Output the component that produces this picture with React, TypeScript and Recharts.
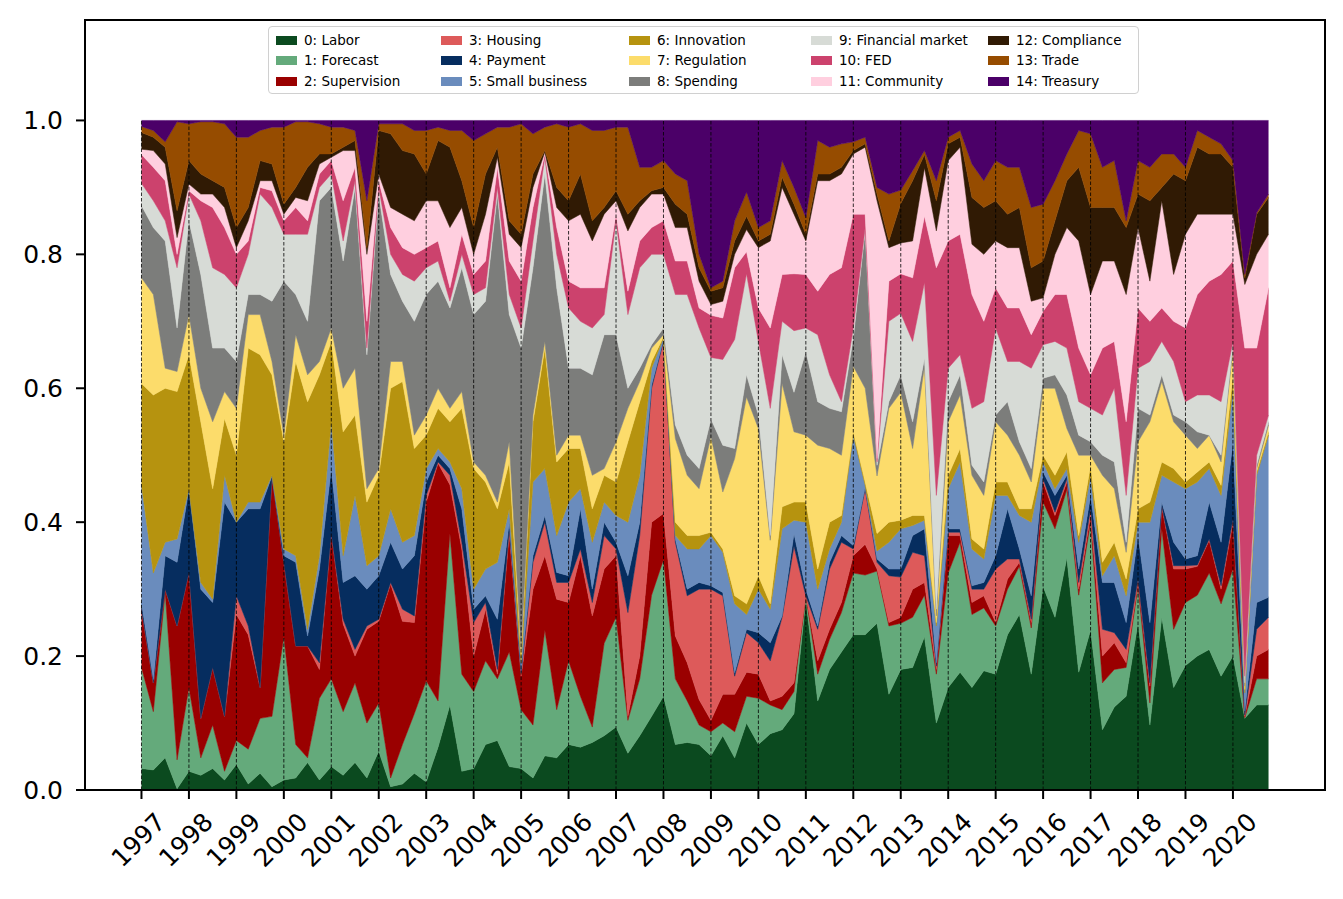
import React from "react";
import { AreaChart, Area, XAxis, YAxis, ReferenceLine } from "recharts";

// quarterly x positions
const quarters = [
  1997, 1997.25, 1997.5, 1997.75, 1998, 1998.25, 1998.5, 1998.75,
  1999, 1999.25, 1999.5, 1999.75, 2000, 2000.25, 2000.5, 2000.75,
  2001, 2001.25, 2001.5, 2001.75, 2002, 2002.25, 2002.5, 2002.75,
  2003, 2003.25, 2003.5, 2003.75, 2004, 2004.25, 2004.5, 2004.75,
  2005, 2005.25, 2005.5, 2005.75, 2006, 2006.25, 2006.5, 2006.75,
  2007, 2007.25, 2007.5, 2007.75, 2008, 2008.25, 2008.5, 2008.75,
  2009, 2009.25, 2009.5, 2009.75, 2010, 2010.25, 2010.5, 2010.75,
  2011, 2011.25, 2011.5, 2011.75, 2012, 2012.25, 2012.5, 2012.75,
  2013, 2013.25, 2013.5, 2013.75, 2014, 2014.25, 2014.5, 2014.75,
  2015, 2015.25, 2015.5, 2015.75, 2016, 2016.25, 2016.5, 2016.75,
  2017, 2017.25, 2017.5, 2017.75, 2018, 2018.25, 2018.5, 2018.75,
  2019, 2019.25, 2019.5, 2019.75, 2020, 2020.25, 2020.5, 2020.75,
];

const years = [
  1997, 1998, 1999, 2000, 2001, 2002, 2003, 2004, 2005, 2006, 2007, 2008,
  2009, 2010, 2011, 2012, 2013, 2014, 2015, 2016, 2017, 2018, 2019, 2020,
];

const yTicks = [0, 0.2, 0.4, 0.6, 0.8, 1.0];

const topicNames = [
  "0: Labor", "1: Forecast", "2: Supervision", "3: Housing", "4: Payment",
  "5: Small business", "6: Innovation", "7: Regulation", "8: Spending",
  "9: Financial market", "10: FED", "11: Community", "12: Compliance",
  "13: Trade", "14: Treasury",
];

// upper edge of each topic band (cumulative share)
const laborTop = [
  0.032, 0.03, 0.048, 0.002, 0.028, 0.022, 0.032, 0.015, 0.038, 0.009, 0.025, 0.005,
  0.015, 0.018, 0.041, 0.015, 0.035, 0.022, 0.041, 0.018, 0.058, 0.005, 0.009, 0.025,
  0.012, 0.064, 0.127, 0.028, 0.032, 0.068, 0.074, 0.035, 0.032, 0.018, 0.051, 0.048,
  0.068, 0.064, 0.071, 0.081, 0.094, 0.055, 0.081, 0.11, 0.14, 0.068, 0.071, 0.068,
  0.051, 0.081, 0.048, 0.1, 0.068, 0.084, 0.09, 0.114, 0.285, 0.133, 0.18, 0.206,
  0.232, 0.232, 0.249, 0.143, 0.18, 0.183, 0.229, 0.1, 0.153, 0.176, 0.153, 0.178,
  0.173, 0.232, 0.262, 0.173, 0.304, 0.258, 0.347, 0.176, 0.239, 0.09, 0.124, 0.14,
  0.25, 0.097, 0.258, 0.153, 0.186, 0.2, 0.21, 0.17, 0.2, 0.107, 0.127, 0.127,
];
const forecastTop = [
  0.183, 0.117, 0.295, 0.045, 0.153, 0.048, 0.097, 0.028, 0.074, 0.061, 0.107, 0.11,
  0.229, 0.068, 0.048, 0.137, 0.166, 0.117, 0.16, 0.1, 0.13, 0.018, 0.068, 0.114,
  0.163, 0.133, 0.383, 0.173, 0.147, 0.193, 0.166, 0.206, 0.12, 0.097, 0.239, 0.12,
  0.193, 0.14, 0.094, 0.219, 0.258, 0.104, 0.166, 0.291, 0.344, 0.166, 0.133, 0.097,
  0.087, 0.1, 0.087, 0.14, 0.137, 0.127, 0.12, 0.147, 0.29, 0.173, 0.225, 0.265,
  0.324, 0.321, 0.327, 0.245, 0.249, 0.258, 0.291, 0.173, 0.324, 0.37, 0.262, 0.272,
  0.245, 0.3, 0.334, 0.242, 0.43, 0.39, 0.449, 0.291, 0.4, 0.16, 0.18, 0.183,
  0.304, 0.13, 0.39, 0.24, 0.28, 0.291, 0.324, 0.278, 0.33, 0.108, 0.166, 0.166,
];
const supervisionTop = [
  0.27, 0.16, 0.3, 0.245, 0.325, 0.107, 0.183, 0.11, 0.262, 0.232, 0.153, 0.469,
  0.34, 0.215, 0.215, 0.18, 0.383, 0.248, 0.2, 0.24, 0.252, 0.308, 0.252, 0.25,
  0.43, 0.488, 0.456, 0.36, 0.2, 0.27, 0.173, 0.383, 0.17, 0.3, 0.35, 0.285,
  0.28, 0.35, 0.26, 0.33, 0.35, 0.11, 0.2, 0.4, 0.413, 0.23, 0.19, 0.135,
  0.104, 0.143, 0.143, 0.176, 0.173, 0.133, 0.14, 0.16, 0.29, 0.193, 0.24, 0.28,
  0.35, 0.367, 0.33, 0.25, 0.258, 0.3, 0.31, 0.18, 0.38, 0.38, 0.28, 0.29,
  0.25, 0.315, 0.34, 0.25, 0.46, 0.41, 0.46, 0.3, 0.41, 0.2, 0.22, 0.19,
  0.31, 0.155, 0.423, 0.33, 0.33, 0.334, 0.373, 0.3, 0.4, 0.11, 0.2, 0.21,
];
const housingTop = [
  0.27, 0.16, 0.3, 0.245, 0.325, 0.107, 0.183, 0.11, 0.29, 0.245, 0.153, 0.469,
  0.34, 0.215, 0.215, 0.19, 0.383, 0.255, 0.21, 0.245, 0.255, 0.31, 0.27, 0.26,
  0.44, 0.49, 0.47, 0.37, 0.25, 0.28, 0.18, 0.39, 0.175, 0.34, 0.4, 0.31,
  0.31, 0.36, 0.28, 0.38, 0.36, 0.265, 0.38, 0.6, 0.67, 0.37, 0.29, 0.3,
  0.3, 0.29, 0.17, 0.235, 0.22, 0.193, 0.258, 0.364, 0.29, 0.24, 0.33, 0.37,
  0.36, 0.45, 0.34, 0.32, 0.318, 0.355, 0.35, 0.185, 0.385, 0.385, 0.3, 0.3,
  0.33, 0.345, 0.345, 0.255, 0.465, 0.415, 0.465, 0.31, 0.42, 0.24, 0.235, 0.21,
  0.315, 0.16, 0.425, 0.335, 0.335, 0.336, 0.375, 0.305, 0.405, 0.112, 0.24, 0.258,
];
const paymentTop = [
  0.28, 0.165, 0.35, 0.34, 0.45, 0.3, 0.28, 0.43, 0.4, 0.42, 0.42, 0.469,
  0.35, 0.34, 0.23, 0.33, 0.48, 0.31, 0.32, 0.3, 0.32, 0.37, 0.33, 0.35,
  0.46, 0.5, 0.48, 0.42, 0.27, 0.29, 0.255, 0.4, 0.18, 0.35, 0.41, 0.325,
  0.32, 0.42, 0.3, 0.4, 0.37, 0.32, 0.4, 0.605, 0.672, 0.375, 0.3, 0.31,
  0.305, 0.295, 0.175, 0.24, 0.235, 0.22, 0.26, 0.383, 0.3, 0.245, 0.34, 0.38,
  0.365, 0.452, 0.345, 0.33, 0.33, 0.38, 0.39, 0.19, 0.39, 0.39, 0.305, 0.31,
  0.35, 0.42, 0.36, 0.29, 0.475, 0.44, 0.47, 0.33, 0.44, 0.31, 0.31, 0.25,
  0.38, 0.25, 0.43, 0.37, 0.345, 0.35, 0.43, 0.37, 0.52, 0.118, 0.28, 0.288,
];
const smallBusinessTop = [
  0.456, 0.324, 0.37, 0.375, 0.45, 0.31, 0.285, 0.47, 0.4, 0.43, 0.43, 0.47,
  0.36, 0.35, 0.24, 0.35, 0.55, 0.35, 0.44, 0.335, 0.35, 0.42, 0.37, 0.38,
  0.48, 0.51, 0.49, 0.45, 0.3, 0.33, 0.34, 0.42, 0.19, 0.46, 0.48, 0.38,
  0.43, 0.45, 0.37, 0.43, 0.41, 0.4, 0.47, 0.63, 0.675, 0.38, 0.36, 0.36,
  0.38, 0.355, 0.278, 0.262, 0.3, 0.27, 0.39, 0.403, 0.4, 0.3, 0.36, 0.4,
  0.53, 0.455, 0.357, 0.37, 0.39, 0.395, 0.403, 0.245, 0.45, 0.49, 0.36, 0.345,
  0.44, 0.44, 0.41, 0.4, 0.49, 0.45, 0.48, 0.37, 0.47, 0.32, 0.35, 0.29,
  0.4, 0.4, 0.47, 0.46, 0.45, 0.46, 0.48, 0.44, 0.6, 0.145, 0.47, 0.53,
];
const innovationTop = [
  0.607, 0.59, 0.6, 0.595, 0.65, 0.55, 0.45, 0.555, 0.5, 0.66, 0.65, 0.62,
  0.52, 0.64, 0.58, 0.62, 0.67, 0.535, 0.56, 0.43, 0.47, 0.6, 0.61, 0.51,
  0.53, 0.57, 0.55, 0.57, 0.48, 0.46, 0.42, 0.49, 0.2, 0.55, 0.66, 0.49,
  0.51, 0.51, 0.42, 0.47, 0.46, 0.52, 0.58, 0.64, 0.677, 0.4, 0.38, 0.38,
  0.385, 0.36, 0.29, 0.278, 0.32, 0.278, 0.423, 0.43, 0.43, 0.33, 0.4, 0.41,
  0.535, 0.46, 0.383, 0.4, 0.403, 0.41, 0.41, 0.25, 0.47, 0.51, 0.375, 0.36,
  0.46, 0.46, 0.42, 0.42, 0.5, 0.47, 0.505, 0.38, 0.485, 0.34, 0.37, 0.315,
  0.42, 0.43, 0.49, 0.48, 0.46, 0.475, 0.49, 0.455, 0.62, 0.15, 0.475, 0.535,
];
const regulationTop = [
  0.765, 0.74, 0.63, 0.625, 0.71, 0.6, 0.55, 0.595, 0.57, 0.71, 0.71, 0.64,
  0.53, 0.68, 0.62, 0.64, 0.69, 0.6, 0.63, 0.45, 0.48, 0.64, 0.64, 0.53,
  0.56, 0.6, 0.57, 0.595, 0.49, 0.47, 0.43, 0.52, 0.21, 0.56, 0.67, 0.5,
  0.53, 0.53, 0.47, 0.48, 0.52, 0.57, 0.61, 0.66, 0.68, 0.525, 0.47, 0.45,
  0.528, 0.445, 0.495, 0.587, 0.54, 0.373, 0.607, 0.535, 0.53, 0.515, 0.51, 0.5,
  0.633, 0.6, 0.469, 0.57, 0.594, 0.51, 0.633, 0.26, 0.55, 0.59, 0.47, 0.44,
  0.55, 0.53, 0.5, 0.46, 0.6, 0.6, 0.54, 0.5, 0.5, 0.47, 0.45, 0.355,
  0.52, 0.55, 0.61, 0.55, 0.53, 0.51, 0.53, 0.49, 0.66, 0.155, 0.48, 0.545,
];
const spendingTop = [
  0.873, 0.84, 0.82, 0.69, 0.85, 0.77, 0.66, 0.66, 0.64, 0.74, 0.74, 0.73,
  0.76, 0.74, 0.7, 0.88, 0.9, 0.79, 0.9, 0.65, 0.89, 0.77, 0.73, 0.7,
  0.74, 0.76, 0.72, 0.78, 0.71, 0.73, 0.89, 0.71, 0.66, 0.78, 0.92, 0.75,
  0.63, 0.63, 0.62, 0.68, 0.68, 0.6, 0.63, 0.665, 0.69, 0.545, 0.5, 0.48,
  0.554, 0.515, 0.51, 0.62, 0.56, 0.38, 0.65, 0.594, 0.655, 0.58, 0.57, 0.565,
  0.675, 0.835, 0.485, 0.58, 0.62, 0.55, 0.645, 0.27, 0.58, 0.62, 0.485, 0.46,
  0.56, 0.58, 0.52, 0.48, 0.615, 0.62, 0.59, 0.53, 0.52, 0.5, 0.49, 0.37,
  0.57, 0.56, 0.62, 0.56, 0.55, 0.535, 0.53, 0.5, 0.665, 0.16, 0.485, 0.55,
];
const financialMarketTop = [
  0.906, 0.88, 0.85, 0.78, 0.89, 0.85, 0.78, 0.77, 0.75, 0.8, 0.89, 0.87,
  0.83, 0.83, 0.83, 0.9, 0.92, 0.82, 0.91, 0.66, 0.9, 0.8, 0.77, 0.76,
  0.78, 0.79, 0.73, 0.8, 0.74, 0.75, 0.9, 0.74, 0.69, 0.82, 0.945, 0.8,
  0.72, 0.7, 0.69, 0.71, 0.85, 0.71, 0.78, 0.8, 0.8, 0.74, 0.74, 0.69,
  0.646, 0.643, 0.673, 0.771, 0.67, 0.57, 0.7, 0.686, 0.69, 0.68, 0.62, 0.58,
  0.69, 0.84, 0.49, 0.7, 0.712, 0.67, 0.758, 0.44, 0.63, 0.65, 0.57, 0.58,
  0.69, 0.64, 0.64, 0.63, 0.665, 0.67, 0.66, 0.58, 0.57, 0.56, 0.6, 0.44,
  0.63, 0.64, 0.67, 0.64, 0.58, 0.59, 0.59, 0.58, 0.67, 0.17, 0.5, 0.56,
];
const fedTop = [
  0.949, 0.93, 0.91, 0.8, 0.895, 0.88, 0.87, 0.84, 0.8, 0.82, 0.9, 0.895,
  0.85, 0.87, 0.85, 0.92, 0.94, 0.88, 0.93, 0.7, 0.91, 0.84, 0.81, 0.8,
  0.81, 0.82, 0.75, 0.83, 0.77, 0.79, 0.93, 0.79, 0.76, 0.87, 0.95, 0.84,
  0.76, 0.75, 0.75, 0.75, 0.86, 0.745, 0.82, 0.84, 0.85, 0.79, 0.79, 0.72,
  0.709, 0.705, 0.78, 0.804, 0.72, 0.69, 0.77, 0.771, 0.77, 0.745, 0.77, 0.78,
  0.86, 0.86, 0.495, 0.76, 0.771, 0.765, 0.857, 0.78, 0.82, 0.83, 0.74, 0.7,
  0.75, 0.72, 0.72, 0.68, 0.715, 0.74, 0.74, 0.66, 0.62, 0.66, 0.67, 0.55,
  0.72, 0.7, 0.72, 0.7, 0.69, 0.74, 0.76, 0.77, 0.79, 0.66, 0.66, 0.75,
];
const communityTop = [
  0.957, 0.955, 0.935, 0.825, 0.905, 0.89, 0.89, 0.87, 0.81, 0.85, 0.91, 0.91,
  0.86, 0.885, 0.88, 0.935, 0.945, 0.955, 0.955, 0.8, 0.92, 0.87, 0.86, 0.85,
  0.88, 0.88, 0.84, 0.87, 0.8, 0.86, 0.945, 0.83, 0.81, 0.9, 0.953, 0.87,
  0.85, 0.86, 0.82, 0.86, 0.88, 0.835, 0.87, 0.89, 0.89, 0.84, 0.84, 0.76,
  0.725, 0.73, 0.8, 0.837, 0.81, 0.82, 0.9, 0.86, 0.82, 0.91, 0.91, 0.92,
  0.95, 0.96, 0.88, 0.81, 0.817, 0.82, 0.929, 0.835, 0.94, 0.96, 0.815, 0.8,
  0.82, 0.81, 0.81, 0.73, 0.735, 0.8, 0.84, 0.82, 0.74, 0.79, 0.79, 0.74,
  0.84, 0.76, 0.88, 0.77, 0.83, 0.86, 0.86, 0.86, 0.86, 0.755, 0.8, 0.83,
];
const complianceTop = [
  0.982, 0.975, 0.96, 0.865, 0.94, 0.92, 0.91, 0.9, 0.84, 0.87, 0.94, 0.935,
  0.875, 0.9, 0.93, 0.95, 0.95, 0.96, 0.97, 0.81, 0.985, 0.98, 0.955, 0.95,
  0.92, 0.97, 0.96, 0.91, 0.84, 0.92, 0.96, 0.85, 0.83, 0.92, 0.955, 0.9,
  0.88, 0.92, 0.85, 0.87, 0.895, 0.86, 0.88, 0.895, 0.9, 0.875, 0.86, 0.78,
  0.745, 0.75, 0.82, 0.857, 0.82, 0.83, 0.915, 0.875, 0.83, 0.92, 0.92, 0.93,
  0.955, 0.965, 0.89, 0.82, 0.876, 0.91, 0.949, 0.88, 0.965, 0.975, 0.885, 0.87,
  0.88, 0.86, 0.87, 0.78, 0.79, 0.85, 0.91, 0.93, 0.87, 0.87, 0.87, 0.84,
  0.89, 0.88, 0.9, 0.92, 0.91, 0.96, 0.95, 0.95, 0.93, 0.765, 0.86, 0.885,
];
const tradeTop = [
  0.991, 0.985, 0.968, 0.998, 0.995, 0.998, 0.998, 0.995, 0.975, 0.975, 0.985, 0.99,
  0.99, 0.998, 0.998, 0.995, 0.99, 0.99, 0.985, 0.88, 0.995, 0.995, 0.995, 0.985,
  0.985, 0.99, 0.985, 0.985, 0.97, 0.98, 0.99, 0.99, 0.995, 0.98, 0.99, 0.995,
  0.99, 0.995, 0.985, 0.985, 0.99, 0.99, 0.93, 0.93, 0.94, 0.92, 0.91, 0.8,
  0.75, 0.76, 0.85, 0.893, 0.84, 0.85, 0.94, 0.9, 0.855, 0.97, 0.96, 0.965,
  0.968, 0.975, 0.9, 0.89, 0.896, 0.925, 0.955, 0.91, 0.975, 0.985, 0.935, 0.91,
  0.94, 0.93, 0.93, 0.87, 0.875, 0.91, 0.95, 0.985, 0.98, 0.93, 0.94, 0.85,
  0.94, 0.93, 0.95, 0.95, 0.93, 0.985, 0.975, 0.965, 0.94, 0.77, 0.862, 0.89,
];
// shares are normalised, the last band (Treasury) runs up to the total
const total = 1;

const bandTops = [
  laborTop, forecastTop, supervisionTop, housingTop, paymentTop,
  smallBusinessTop, innovationTop, regulationTop, spendingTop,
  financialMarketTop, fedTop, communityTop, complianceTop, tradeTop,
];

const colors = [
  "#0b4a1f", "#64aa7b", "#9a0000", "#dd5a5a", "#062d5f",
  "#6a8cbd", "#b6930f", "#fcdc6b", "#7c7d7b", "#d7dbd6",
  "#cc426d", "#ffcfdf", "#301a04", "#964c00", "#4b0068",
];

const rows = quarters.map((q, i) => {
  const row: Record<string, any> = { q };
  let lo = 0;
  topicNames.forEach((_, k) => {
    const hi = k < bandTops.length ? bandTops[k][i] : total;
    row["b" + k] = [lo, hi];
    lo = hi;
  });
  return row;
});

const font = "DejaVu Sans, sans-serif";

const XTick = (props: any) => {
  const { x, y, payload } = props;
  return (
    <g transform={`translate(${x - 3},${y + 39})`}>
      <text
        transform="rotate(-45)"
        textAnchor="middle"
        dominantBaseline="central"
        fontSize={25}
        fontFamily={font}
        fill="#000"
      >
        {payload.value}
      </text>
    </g>
  );
};

// legend: column-major, 3 rows x 5 columns
const legendCols = [7, 172, 360, 542, 719];
const legendRows = [13, 33, 54];

const TopicLegend = () => (
  <div
    style={{
      position: "absolute",
      left: 268,
      top: 26,
      width: 871,
      height: 68,
      boxSizing: "border-box",
      border: "1.5px solid #d0d0d0",
      borderRadius: 4,
      background: "rgba(255,255,255,0.85)",
      fontFamily: font,
      fontSize: 13.5,
      color: "#000",
    }}
  >
    {topicNames.map((name, k) => {
      const col = Math.floor(k / 3);
      const r = k % 3;
      return (
        <div
          key={name}
          style={{
            position: "absolute",
            left: legendCols[col],
            top: legendRows[r] - 9,
            height: 18,
            display: "flex",
            alignItems: "center",
            whiteSpace: "nowrap",
          }}
        >
          <span
            style={{
              display: "inline-block",
              width: 21,
              height: 9,
              background: colors[k],
              marginRight: 7,
            }}
          />
          {name}
        </div>
      );
    })}
  </div>
);

export default function App() {
  return (
    <div style={{ position: "absolute", left: 0, top: 0, width: 1343, height: 899, background: "#fff" }}>
      <AreaChart
        width={1343}
        height={899}
        data={rows}
        margin={{ top: 20, right: 18, left: 25, bottom: 29 }}
      >
        <XAxis
          dataKey="q"
          type="number"
          domain={[1995.81, 2021.94]}
          ticks={years}
          interval={0}
          allowDataOverflow
          height={80}
          axisLine={false}
          tickSize={9}
          tickLine={{ stroke: "#000", strokeWidth: 2 }}
          tick={<XTick />}
        />
        <YAxis
          type="number"
          domain={[0, 1.15]}
          ticks={yTicks}
          allowDataOverflow
          width={60}
          axisLine={false}
          tickSize={9}
          tickMargin={13}
          tickLine={{ stroke: "#000", strokeWidth: 2 }}
          tickFormatter={(v: number) => v.toFixed(1)}
          tick={{ fontSize: 25, fontFamily: font, fill: "#000" }}
        />
        {topicNames.map((name, k) => (
          <Area
            key={name}
            name={name}
            type="linear"
            dataKey={"b" + k}
            stroke={colors[k]}
            strokeWidth={0.5}
            fill={colors[k]}
            fillOpacity={1}
            dot={false}
            activeDot={false}
            isAnimationActive={false}
          />
        ))}
        {years.map((yr) => (
          <ReferenceLine
            key={yr}
            segment={[
              { x: yr, y: 0 },
              { x: yr, y: 1 },
            ]}
            stroke="#000"
            strokeWidth={0.8}
            strokeDasharray="3.5 2"
          />
        ))}
      </AreaChart>
      <div
        style={{
          position: "absolute",
          left: 84,
          top: 19,
          width: 1242,
          height: 772,
          boxSizing: "border-box",
          border: "2px solid #000",
          pointerEvents: "none",
        }}
      />
      <TopicLegend />
    </div>
  );
}
